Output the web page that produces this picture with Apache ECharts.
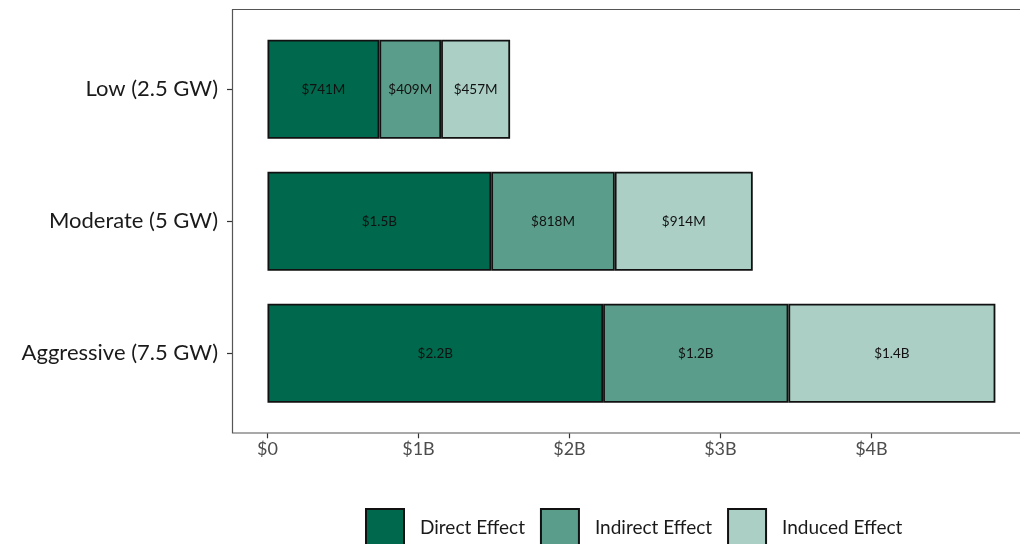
<!DOCTYPE html>
<html>
<head>
<meta charset="utf-8">
<script src="https://cdn.jsdelivr.net/npm/echarts@6/dist/echarts.min.js"></script>
<style>
  html, body { margin: 0; padding: 0; background: #fff; }
  #chart { width: 1020px; height: 544px; }
</style>
</head>
<body>
<div id="chart"></div>
<script>
// Economic impact by deployment scenario, in millions of dollars
const scenarios = ['Low (2.5 GW)', 'Moderate (5 GW)', 'Aggressive (7.5 GW)'];
const directEffect = [741, 1482, 2223];
const indirectEffect = [409, 818, 1227];
const inducedEffect = [457, 914, 1371];
const tickValues = [0, 1000, 2000, 3000, 4000];
const tickLabels = ['$0', '$1B', '$2B', '$3B', '$4B'];

const FONT = 'Lato, "Open Sans", sans-serif';

function money(v) {
  return v >= 1000 ? '$' + (v / 1000).toFixed(1) + 'B' : '$' + v + 'M';
}

function barSeries(name, data, color) {
  return {
    name: name,
    type: 'bar',
    stack: 'total',
    data: data,
    barWidth: '75%',
    itemStyle: { color: color, borderColor: '#111', borderWidth: 1.8 },
    label: {
      show: true,
      position: 'inside',
      color: '#111',
      fontFamily: FONT,
      fontSize: 13.5,
      formatter: p => money(p.value)
    },
    emphasis: { disabled: true }
  };
}

const chart = echarts.init(document.getElementById('chart'), null, { renderer: 'canvas' });
chart.setOption({
  animation: false,
  backgroundColor: '#fff',
  graphic: [{
    type: 'rect',
    silent: true,
    z: 100,
    shape: { x: 232.5, y: 9.5, width: 820, height: 423.5 },
    style: { fill: null, stroke: '#555', lineWidth: 1.2 }
  }],
  grid: {
    left: 232,
    top: 23.3,
    width: 788,
    height: 396,
    containLabel: false
  },
  xAxis: {
    type: 'value',
    min: -235,
    max: 4984,
    offset: 14,
    axisLine: { show: false },
    splitLine: { show: false },
    axisTick: {
      show: true,
      length: 5,
      customValues: tickValues,
      lineStyle: { color: '#333', width: 1.2 }
    },
    axisLabel: {
      customValues: tickValues,
      margin: 7,
      color: '#4d4d4d',
      fontFamily: FONT,
      fontSize: 18,
      formatter: v => tickLabels[tickValues.indexOf(v)]
    }
  },
  yAxis: {
    type: 'category',
    data: scenarios,
    inverse: true,
    axisLine: { show: false, onZero: false },
    axisTick: {
      show: true,
      length: 5,
      alignWithLabel: true,
      lineStyle: { color: '#333', width: 1.2 }
    },
    axisLabel: {
      margin: 14,
      color: '#1a1a1a',
      fontFamily: FONT,
      fontSize: 22
    }
  },
  legend: {
    left: 360,
    top: 503,
    itemWidth: 38,
    itemHeight: 38,
    itemGap: 15,
    icon: 'rect',
    textStyle: {
      color: '#1a1a1a',
      fontFamily: FONT,
      fontSize: 19,
      padding: [0, 0, 0, 11]
    },
    data: ['Direct Effect', 'Indirect Effect', 'Induced Effect']
  },
  series: [
    barSeries('Direct Effect', directEffect, '#00684c'),
    barSeries('Indirect Effect', indirectEffect, '#5a9d8a'),
    barSeries('Induced Effect', inducedEffect, '#abcfc5')
  ]
});
</script>
</body>
</html>
